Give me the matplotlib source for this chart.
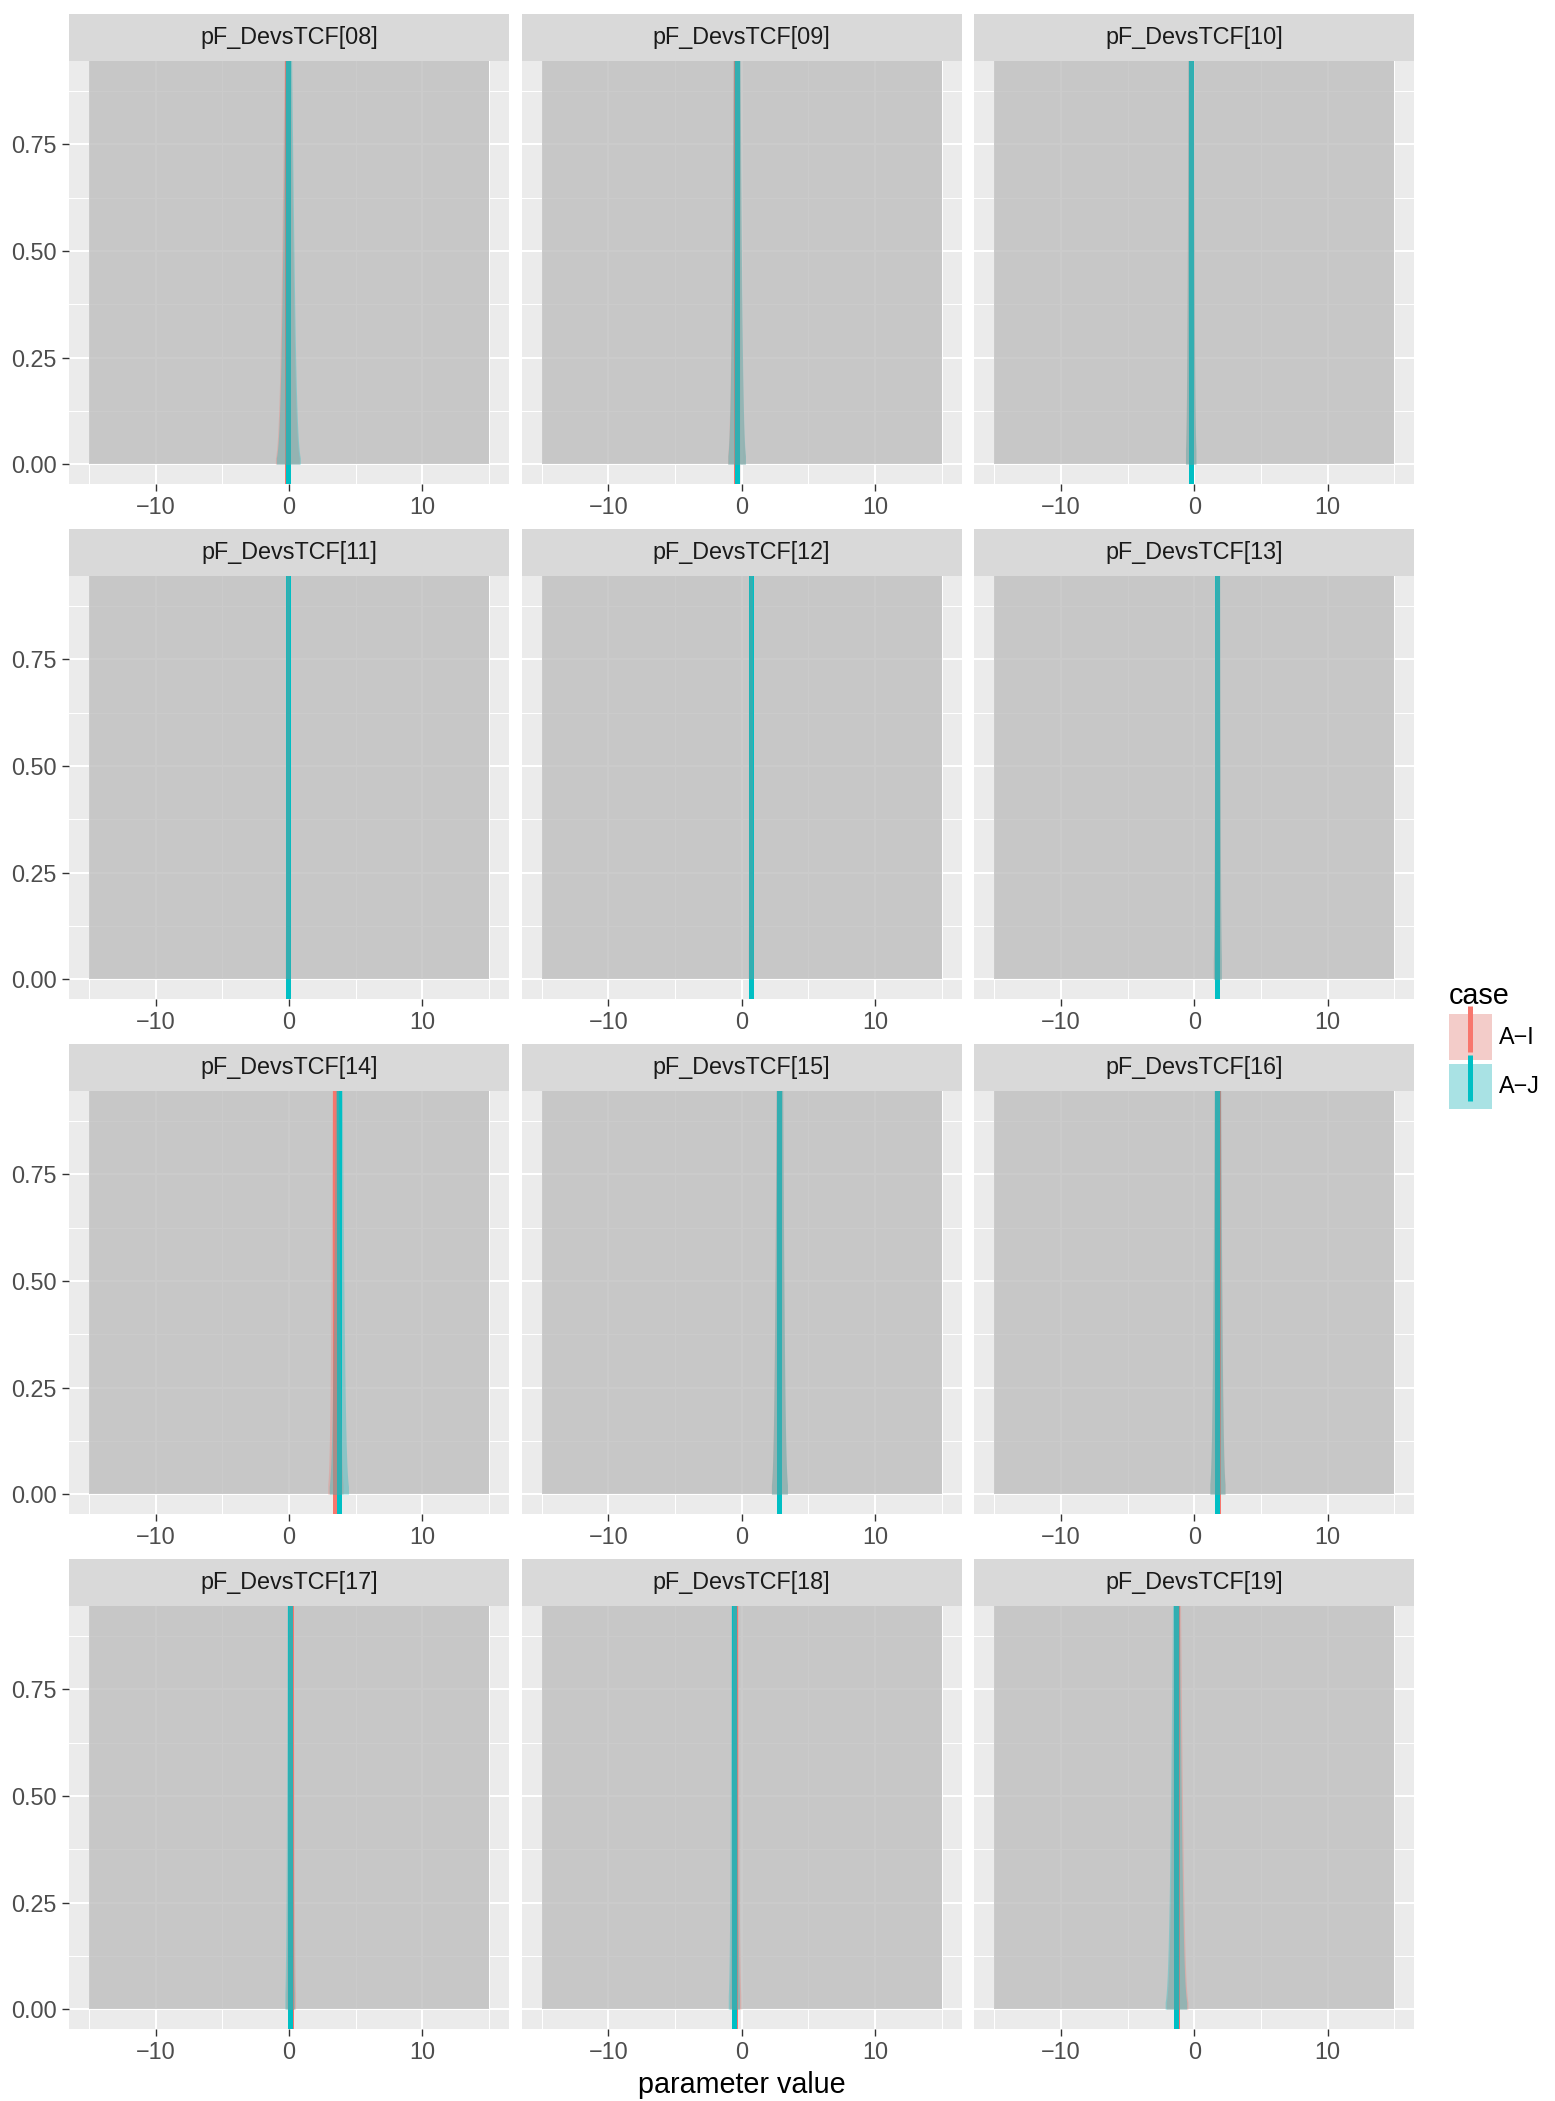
import numpy as np
import matplotlib.pyplot as plt
from matplotlib.patches import Patch
from matplotlib.lines import Line2D

plt.rcParams['font.family'] = ['Liberation Sans', 'DejaVu Sans']

# facet labels
params = ['pF_DevsTCF[08]', 'pF_DevsTCF[09]', 'pF_DevsTCF[10]',
          'pF_DevsTCF[11]', 'pF_DevsTCF[12]', 'pF_DevsTCF[13]',
          'pF_DevsTCF[14]', 'pF_DevsTCF[15]', 'pF_DevsTCF[16]',
          'pF_DevsTCF[17]', 'pF_DevsTCF[18]', 'pF_DevsTCF[19]']
cases = ['A\u2212I', 'A\u2212J']

# posterior estimates (vertical lines)
ai_est = [-0.12, -0.39, -0.27, -0.06, 0.72, 1.73, 3.48, 2.83, 1.75, 0.13, -0.48, -1.28]
aj_est = [-0.05, -0.37, -0.26, -0.05, 0.73, 1.74, 3.74, 2.84, 1.74, 0.05, -0.58, -1.37]
# posterior spread (sd) for the density curves
ai_sd = [0.30, 0.22, 0.13, 0.06, 0.06, 0.10, 0.19, 0.20, 0.19, 0.12, 0.14, 0.27]
aj_sd = [0.30, 0.22, 0.13, 0.06, 0.06, 0.10, 0.24, 0.20, 0.19, 0.12, 0.14, 0.27]
# prior range (grey block)
prior_range = [-15, 15]

red = '#F8766D'
cyan = '#00BFC4'

W, H = 1555, 2101
fig = plt.figure(figsize=(W/100, H/100), dpi=100)

def frac(x, y, w, h):
    return [x/W, 1-(y+h)/H, w/W, h/H]

lefts = [69, 521.6, 974.2]
pw, ph = 440, 422.4
step = 515

for i, name in enumerate(params):
    r, c = divmod(i, 3)
    ax = fig.add_axes(frac(lefts[c], 61.1+step*r, pw, ph))
    ax.set_xlim(-16.5, 16.5)
    ax.set_ylim(-0.045, 0.945)
    ax.set_facecolor('#EBEBEB')
    ax.set_xticks([-10, 0, 10])
    ax.set_xticks([-15, -5, 5, 15], minor=True)
    ax.set_yticks([0, 0.25, 0.5, 0.75])
    ax.set_yticks([0.125, 0.375, 0.625, 0.875], minor=True)
    ax.set_yticklabels(['0.00', '0.25', '0.50', '0.75'])
    ax.set_axisbelow(True)
    ax.grid(which='major', color='white', lw=1.5)
    ax.grid(which='minor', color='white', lw=0.75)
    for s in ax.spines.values():
        s.set_visible(False)
    ax.tick_params(which='minor', length=0)
    ax.tick_params(which='major', length=5, width=1.0, color='#333333',
                   labelsize=16.8, labelcolor='#4D4D4D', pad=4)
    if c != 0:
        ax.tick_params(axis='y', left=False, labelleft=False)

    ytop = ax.get_ylim()[1]
    ax.fill_between(prior_range, 0, ytop, color='#BEBEBE', alpha=0.8, lw=0, zorder=1)

    ax.axvline(ai_est[i], color=red, lw=3.6, zorder=2)
    ax.axvline(aj_est[i], color=cyan, lw=3.6, zorder=2.1)

    for m, sd, col in [(ai_est[i], ai_sd[i], red), (aj_est[i], aj_sd[i], cyan)]:
        x = np.linspace(m-3*sd, m+3*sd, 300)
        y = np.exp(-0.5*((x-m)/sd)**2)/(sd*np.sqrt(2*np.pi))
        ax.fill_between(x, 0, y, color=col, alpha=0.3, lw=0, zorder=3)

    sax = fig.add_axes(frac(lefts[c], 14+step*r, pw, 47.1))
    sax.set_facecolor('#D9D9D9')
    sax.set_xticks([])
    sax.set_yticks([])
    for s in sax.spines.values():
        s.set_visible(False)
    sax.text(0.5, 0.5, name, ha='center', va='center', fontsize=16.8, color='#1A1A1A')

fig.text(741.6/W, 1-2085/H, 'parameter value', ha='center', va='center', fontsize=20.7)

handles = []
for col in [red, cyan]:
    handles.append((Patch(facecolor='#F2F2F2', lw=0),
                    Patch(facecolor=col, alpha=0.3, lw=0),
                    Line2D([], [], color=col, marker='|', ms=33, mew=3.6, ls='none')))
fig.legend(handles, cases, title='case', loc='upper left',
           bbox_to_anchor=(1449/W, 1-982/H), frameon=False, fontsize=16.8,
           title_fontsize=20.7, handlelength=1.84, handleheight=2.63,
           labelspacing=0.17, handletextpad=0.3, borderpad=0, borderaxespad=0,
           alignment='left')

fig.savefig('out.png', dpi=100, facecolor='white')
